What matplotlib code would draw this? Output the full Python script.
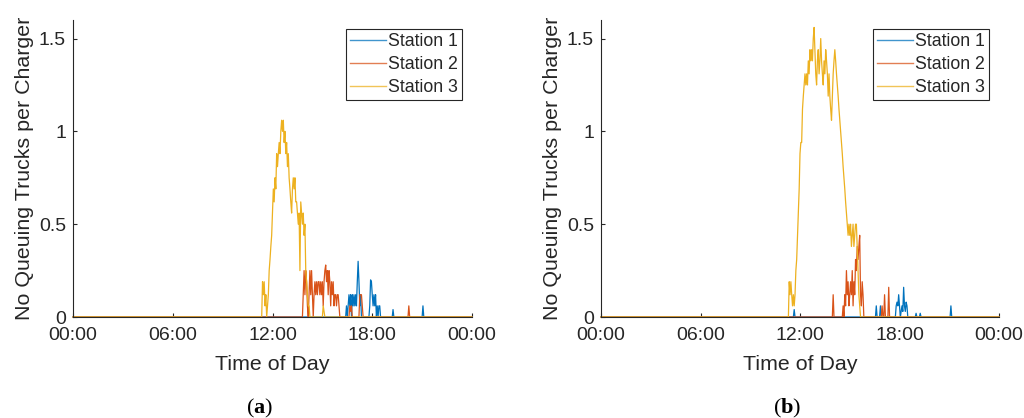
import numpy as np
import matplotlib
matplotlib.use('Agg')
import matplotlib.pyplot as plt

# ---------------- data ----------------
STEP = 0.05  # hours between samples (3 min)
stations = ['Station 1', 'Station 2', 'Station 3']
xtick_hours = [0, 6, 12, 18, 24]
xtick_labels = ['00:00', '06:00', '12:00', '18:00', '00:00']
ytick_values = [0, 0.5, 1, 1.5]
ytick_labels = ['0', '0.5', '1', '1.5']
captions = ['a', 'b']

# panel (a): (segment start hour, values every 3 min)
a_station1 = [
    (16.45, [0.06, 0.0, 0.06, 0.12, 0.06, 0.12, 0.0, 0.12, 0.06, 0.12, 0.06,
             0.12, 0.06, 0.19, 0.30, 0.19, 0.06, 0.12]),
    (17.85, [0.06, 0.20, 0.19, 0.12, 0.06, 0.12, 0.06, 0.12, 0.0, 0.06, 0.0,
             0.06, 0.06]),
    (19.25, [0.04]),
    (21.05, [0.06]),
]
a_station2 = [
    (13.85, [0.12, 0.25, 0.12, 0.25, 0.19, 0.06, 0.0, 0.12, 0.25, 0.12, 0.25,
             0.12, 0.0, 0.12, 0.19, 0.12, 0.19, 0.12, 0.19, 0.19, 0.12, 0.19,
             0.12, 0.19, 0.06, 0.19, 0.25, 0.28, 0.19, 0.25, 0.12, 0.25, 0.19,
             0.06, 0.19, 0.12, 0.19, 0.06, 0.12, 0.12, 0.06, 0.12, 0.12, 0.06]),
    (16.65, [0.06, 0.03, 0.06]),
    (17.25, [0.12, 0.12, 0.12, 0.06]),
    (20.20, [0.06]),
]
a_station3 = [
    (11.40, [0.19, 0.12, 0.19, 0.06, 0.12, 0.0, 0.06, 0.12, 0.25, 0.31, 0.38,
             0.44, 0.56, 0.69, 0.62, 0.75, 0.69, 0.88, 0.81, 0.88, 0.94, 0.88,
             1.0, 1.06, 1.0, 1.06, 0.94, 1.0, 0.88, 0.94, 0.81, 0.88, 0.75,
             0.69, 0.62, 0.56, 0.69, 0.75, 0.69, 0.75, 0.62, 0.62, 0.56, 0.5,
             0.56, 0.25, 0.62, 0.56, 0.5, 0.56, 0.44, 0.5, 0.25, 0.19, 0.12,
             0.06, 0.06]),
    (15.05, [0.06, 0.03]),
]

# panel (b)
b_station1 = [
    (11.65, [0.04]),
    (16.60, [0.06]),
    (16.85, [0.06]),
    (17.80, [0.06, 0.08, 0.06, 0.12, 0.06, 0.0, 0.03, 0.06, 0.03, 0.16, 0.06,
             0.03, 0.08, 0.06]),
    (19.00, [0.02]),
    (19.25, [0.02]),
    (21.10, [0.06]),
]
b_station2 = [
    (14.00, [0.12]),
    (14.60, [0.06, 0.0, 0.12, 0.06, 0.25, 0.12, 0.19, 0.06, 0.12, 0.19, 0.12,
             0.25, 0.06, 0.19, 0.12, 0.31, 0.25, 0.38, 0.31, 0.38, 0.44, 0.12,
             0.06, 0.19, 0.12]),
    (16.95, [0.06]),
    (17.10, [0.12]),
    (17.35, [0.16]),
]
b_station3 = [
    (11.35, [0.19, 0.12, 0.19, 0.12, 0.06, 0.12, 0.06, 0.12, 0.25, 0.31, 0.44,
             0.56, 0.69, 0.88, 0.94, 0.94, 1.12, 1.19, 1.25, 1.31, 1.25, 1.31,
             1.25, 1.38, 1.31, 1.44, 1.38, 1.44, 1.38, 1.5, 1.56, 1.44, 1.31,
             1.25, 1.38, 1.44, 1.31, 1.38, 1.5, 1.38, 1.31, 1.25, 1.38, 1.31,
             1.44, 1.38, 1.31, 1.19, 1.31, 1.19, 1.12, 1.06, 1.19, 1.31, 1.38,
             1.44, 1.38, 1.31, 1.25, 1.19, 1.12, 1.06, 1.0, 0.94, 0.88, 0.81,
             0.75, 0.69, 0.62, 0.56, 0.5, 0.44, 0.5, 0.44, 0.5, 0.38, 0.44,
             0.5, 0.38, 0.44, 0.5, 0.5, 0.38, 0.25, 0.12, 0.06]),
]

# ---------------- helpers ----------------
hours = np.arange(0, 24 + STEP / 2, STEP)


def series(segments):
    y = np.zeros_like(hours)
    for start, vals in segments:
        i = int(round(start / STEP))
        y[i:i + len(vals)] = vals
    return y


colors = ['#0072BD', '#D95319', '#EDB120']
axis_color = '#262626'

plt.rcParams['font.family'] = ['Liberation Sans', 'DejaVu Sans']
plt.rcParams['mathtext.fontset'] = 'custom'
plt.rcParams['mathtext.rm'] = 'Liberation Serif'
plt.rcParams['mathtext.bf'] = 'Liberation Serif:bold'

fig = plt.figure(figsize=(10.24, 4.18), dpi=100)
W, H = 1024, 418

panels = [
    (73, 472, [a_station1, a_station2, a_station3], 260),
    (601, 999, [b_station1, b_station2, b_station3], 787),
]
top_px, bottom_px = 20, 317

for (lpx, rpx, data, cap_x), cap in zip(panels, captions):
    ax = fig.add_axes([lpx / W, 1 - bottom_px / H, (rpx - lpx) / W,
                       (bottom_px - top_px) / H])
    for segs, name, c in zip(data, stations, colors):
        ax.plot(hours, series(segs), color=c, lw=0.9, label=name,
                clip_on=False)
    ax.set_xlim(0, 24)
    ax.set_ylim(0, 1.6)
    ax.set_xticks(xtick_hours)
    ax.set_xticklabels(xtick_labels)
    ax.set_yticks(ytick_values)
    ax.set_yticklabels(ytick_labels)
    for s in ['top', 'right']:
        ax.spines[s].set_visible(False)
    for s in ['left', 'bottom']:
        ax.spines[s].set_color(axis_color)
        ax.spines[s].set_linewidth(0.8)
    ax.tick_params(axis='both', direction='in', length=3, width=0.8,
                   colors=axis_color, labelsize=14)
    ax.tick_params(axis='x', pad=7)
    ax.tick_params(axis='y', pad=5)
    ax.set_xlabel('Time of Day', fontsize=15.4, color=axis_color)
    ax.set_ylabel('No Queuing Trucks per Charger', fontsize=15.4,
                  color=axis_color)
    ax.xaxis.set_label_coords(0.5, -0.128)
    ax.yaxis.set_label_coords(-0.098, 0.5)
    leg = ax.legend(loc='upper right', bbox_to_anchor=(0.975, 0.97),
                    borderaxespad=0, fontsize=12.8, frameon=True,
                    fancybox=False, framealpha=1, edgecolor=axis_color,
                    handlelength=2.0, handletextpad=0.15, labelspacing=0.34,
                    borderpad=0.22)
    leg.get_frame().set_linewidth(0.8)
    for line in leg.get_lines():
        line.set_linewidth(1.0)
        line.set_alpha(0.75)
    for t in leg.get_texts():
        t.set_color(axis_color)
    fig.text(cap_x / W, 1 - 413 / H,
             r'$\mathrm{(}\mathbf{' + cap + r'}\mathrm{)}$',
             ha='center', va='baseline', fontsize=16, color='black')

fig.savefig('out.png', dpi=100)
